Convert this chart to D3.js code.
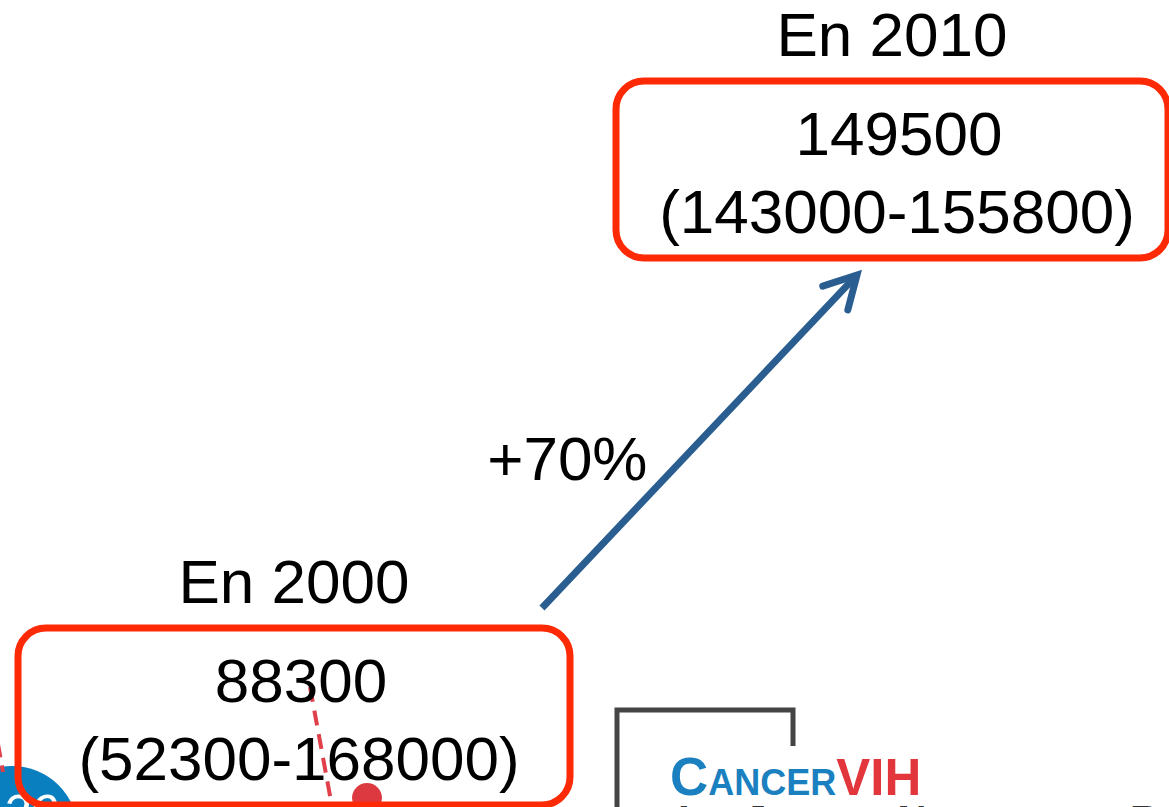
<!DOCTYPE html>
<html>
<head>
<meta charset="utf-8">
<script src="https://cdn.jsdelivr.net/npm/d3@7"></script>
<style>
  body { margin: 0; background: #fff; }
  svg { display: block; }
  text { font-family: "Liberation Sans", Arial, sans-serif; }
</style>
</head>
<body>
<svg id="chart" width="1169" height="807"></svg>
<script>
// Values
var years = ["En 2000", "En 2010"];
var estimates = [88300, 149500];
var lowBounds = [52300, 143000];
var highBounds = [168000, 155800];
var changeLabel = "+70%";

// Styles
var BOX_COLOR = "#fe2a06";
var ARROW_COLOR = "#2b5e90";
var TEXT_COLOR = "#000";
var FONT_SIZE = 62;

var W = 1169, H = 807;
var BOX_W = 552, BOX_H = 177;

var svg = d3.select("#chart");

// box centres along x, box tops along y (the later year sits higher)
var x = d3.scalePoint().domain(years).range([294, 892]);
var y = d3.scalePoint().domain(years).range([628, 81]);

var rows = years.map(function(yr, i) {
    return { year: yr, est: estimates[i], lo: lowBounds[i], hi: highBounds[i] };
});

// ---- background bits of the slide peeking in ----
var deco = svg.append("g").attr("class", "deco");

deco.append("circle")
    .attr("cx", 12).attr("cy", 832).attr("r", 66)
    .attr("fill", "#0a7fc0");
deco.append("text")
    .attr("x", 2).attr("y", 830)
    .attr("font-size", 50).attr("font-style", "italic")
    .attr("font-family", "Liberation Serif, serif")
    .attr("fill", "#fff")
    .text("20");

deco.append("line")
    .attr("x1", -6).attr("y1", 722).attr("x2", 3).attr("y2", 772)
    .attr("stroke", "#e0404a").attr("stroke-width", 4)
    .attr("stroke-dasharray", "14 8");

deco.append("line")
    .attr("x1", 310).attr("y1", 687).attr("x2", 333).attr("y2", 812)
    .attr("stroke", "#e0404a").attr("stroke-width", 4)
    .attr("stroke-dasharray", "15 9");

deco.append("circle")
    .attr("cx", 367).attr("cy", 798).attr("r", 15)
    .attr("fill", "#dc3a40");

// logo
deco.append("path")
    .attr("d", "M617,807 L617,710 L793,710 L793,746")
    .attr("fill", "none").attr("stroke", "#444").attr("stroke-width", 5);

var logo = deco.append("text").attr("x", 670).attr("y", 795)
    .attr("font-weight", "bold");
logo.append("tspan").attr("font-size", 53).attr("fill", "#1a80c0").text("C");
logo.append("tspan").attr("font-size", 36).attr("fill", "#1a80c0").text("ANCER");
logo.append("tspan").attr("font-size", 51)
    .attr("fill", "#e2363c").text("VIH");

deco.append("text").attr("x", 672).attr("y", 834)
    .attr("font-weight", "bold").attr("fill", "#333")
    .attr("font-size", 40)
    .attr("font-variant", "small-caps")
    .text("1re Journée Nationale du Réseau");

// ---- arrow between the two boxes ----
var a0 = [x(years[0]) + BOX_W / 2 - 28, y(years[0]) - 20];
var a1 = [x(years[1]) - BOX_W / 2 + 241, y(years[1]) + BOX_H + 17];
var ang = Math.atan2(a1[1] - a0[1], a1[0] - a0[0]);
var barb = 36, spread = 0.5;
var b1 = [a1[0] - barb * Math.cos(ang - spread), a1[1] - barb * Math.sin(ang - spread)];
var b2 = [a1[0] - barb * Math.cos(ang + spread), a1[1] - barb * Math.sin(ang + spread)];

svg.append("line")
    .attr("x1", a0[0]).attr("y1", a0[1])
    .attr("x2", a1[0] - 3 * Math.cos(ang)).attr("y2", a1[1] - 3 * Math.sin(ang))
    .attr("stroke", ARROW_COLOR).attr("stroke-width", 7);

svg.append("path")
    .attr("d", d3.line()([b1, a1, b2]))
    .attr("fill", "none").attr("stroke", ARROW_COLOR)
    .attr("stroke-width", 7).attr("stroke-linecap", "round")
    .attr("stroke-linejoin", "miter");

svg.append("text")
    .attr("x", (a0[0] + a1[0]) / 2 - 52)
    .attr("y", (a0[1] + a1[1]) / 2 + 38)
    .attr("text-anchor", "end")
    .attr("font-size", FONT_SIZE)
    .attr("fill", TEXT_COLOR)
    .text(changeLabel);

// ---- the two estimate boxes ----
var box = svg.selectAll("g.box")
    .data(rows)
    .enter()
    .append("g")
    .attr("class", "box")
    .attr("transform", function(d) {
        return "translate(" + x(d.year) + "," + y(d.year) + ")";
    });

box.append("rect")
    .attr("x", -BOX_W / 2).attr("y", 0)
    .attr("width", BOX_W).attr("height", BOX_H)
    .attr("rx", 28).attr("ry", 28)
    .attr("fill", "none")
    .attr("stroke", BOX_COLOR)
    .attr("stroke-width", 7);

box.append("text")
    .attr("y", -25)
    .attr("text-anchor", "middle")
    .attr("font-size", FONT_SIZE)
    .attr("fill", TEXT_COLOR)
    .text(function(d) { return d.year; });

box.append("text")
    .attr("x", 7)
    .attr("y", 74)
    .attr("text-anchor", "middle")
    .attr("font-size", FONT_SIZE)
    .attr("fill", TEXT_COLOR)
    .text(function(d) { return d.est; });

box.append("text")
    .attr("x", 5)
    .attr("y", 152)
    .attr("text-anchor", "middle")
    .attr("font-size", FONT_SIZE)
    .attr("fill", TEXT_COLOR)
    .text(function(d) { return "(" + d.lo + "-" + d.hi + ")"; });
</script>
</body>
</html>
